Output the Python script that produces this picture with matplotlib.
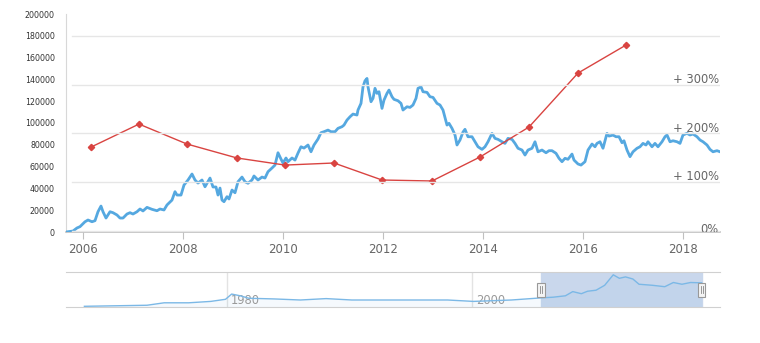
import matplotlib
matplotlib.use("Agg")
import matplotlib.pyplot as plt
from matplotlib.patches import Rectangle
import numpy as np

# price series (year, value in thousands)
blue_years = [2005.66, 2005.80, 2005.88, 2005.94, 2006.04, 2006.10, 2006.18, 2006.24, 2006.30, 2006.36,
              2006.40, 2006.46, 2006.54, 2006.60, 2006.68, 2006.74, 2006.80, 2006.88, 2006.94, 2007.00,
              2007.08, 2007.14, 2007.20, 2007.28, 2007.38, 2007.48, 2007.54, 2007.62, 2007.68, 2007.78,
              2007.84, 2007.88, 2007.96, 2008.02, 2008.10, 2008.18, 2008.24, 2008.30, 2008.38, 2008.44,
              2008.54, 2008.60, 2008.66, 2008.70, 2008.74, 2008.78, 2008.82, 2008.88, 2008.92, 2008.98,
              2009.04, 2009.10, 2009.18, 2009.24, 2009.30, 2009.38, 2009.42, 2009.50, 2009.58, 2009.64,
              2009.70, 2009.78, 2009.84, 2009.90, 2009.96, 2010.00, 2010.06, 2010.10, 2010.18, 2010.24,
              2010.30, 2010.36, 2010.42, 2010.50, 2010.56, 2010.62, 2010.70, 2010.76, 2010.82, 2010.90,
              2010.96, 2011.04, 2011.10, 2011.18, 2011.22, 2011.28, 2011.34, 2011.40, 2011.48, 2011.50,
              2011.56, 2011.60, 2011.64, 2011.68, 2011.70, 2011.76, 2011.80, 2011.84, 2011.88, 2011.92,
              2011.98, 2012.02, 2012.08, 2012.12, 2012.18, 2012.22, 2012.30, 2012.36, 2012.40, 2012.48,
              2012.54, 2012.60, 2012.66, 2012.70, 2012.76, 2012.80, 2012.88, 2012.94, 2013.00, 2013.08,
              2013.14, 2013.20, 2013.28, 2013.32, 2013.38, 2013.44, 2013.48, 2013.54, 2013.60, 2013.64,
              2013.70, 2013.78, 2013.84, 2013.90, 2013.98, 2014.04, 2014.10, 2014.18, 2014.24, 2014.30,
              2014.38, 2014.44, 2014.50, 2014.58, 2014.64, 2014.70, 2014.78, 2014.84, 2014.90, 2014.98,
              2015.04, 2015.10, 2015.18, 2015.26, 2015.32, 2015.38, 2015.46, 2015.52, 2015.58, 2015.64,
              2015.70, 2015.78, 2015.82, 2015.90, 2015.96, 2016.04, 2016.10, 2016.18, 2016.24, 2016.28,
              2016.34, 2016.40, 2016.48, 2016.52, 2016.60, 2016.66, 2016.72, 2016.78, 2016.82, 2016.88,
              2016.94, 2017.00, 2017.08, 2017.14, 2017.20, 2017.26, 2017.30, 2017.38, 2017.44, 2017.50,
              2017.58, 2017.64, 2017.68, 2017.74, 2017.80, 2017.88, 2017.94, 2018.00, 2018.08, 2018.14,
              2018.20, 2018.28, 2018.34, 2018.40, 2018.48, 2018.54, 2018.60, 2018.68, 2018.74]
blue_vals = [0.0, 0.9, 3.7, 4.9, 9.4, 11.0, 9.4, 10.4, 18.6, 23.8,
             18.6, 12.8, 18.6, 17.7, 15.6, 12.8, 12.8, 16.5, 17.7, 16.5,
             18.6, 21.1, 19.3, 22.6, 20.8, 19.5, 21.1, 20.2, 24.8, 29.3,
             37.0, 33.9, 33.9, 43.1, 47.7, 53.2, 47.7, 44.9, 47.7, 41.5,
             49.5, 41.3, 41.3, 33.9, 40.3, 29.3, 27.8, 32.4, 30.3, 38.5,
             36.0, 46.1, 50.4, 46.1, 44.7, 47.7, 51.4, 47.7, 50.4, 49.5,
             55.3, 58.7, 61.4, 72.7, 66.9, 63.3, 67.9, 64.5, 67.9, 66.0,
             72.4, 78.2, 77.0, 79.8, 73.6, 79.8, 85.3, 91.1, 92.0, 93.5,
             92.0, 92.0, 95.1, 96.6, 98.1, 102.7, 105.7, 108.2, 107.3, 111.9,
             118.0, 133.2, 138.7, 140.9, 133.2, 119.5, 122.6, 131.8, 127.2, 128.7,
             113.4, 121.0, 127.2, 130.2, 124.1, 121.7, 120.4, 118.0, 111.9, 114.9,
             114.3, 116.5, 122.6, 131.8, 133.2, 128.7, 128.1, 124.1, 123.5, 118.0,
             116.5, 111.9, 98.1, 99.7, 95.1, 89.0, 79.8, 84.4, 91.7, 94.2,
             87.4, 87.4, 82.8, 78.2, 75.8, 78.2, 82.8, 90.5, 85.9, 85.0,
             82.8, 81.3, 85.9, 85.0, 81.3, 76.8, 75.2, 70.6, 75.2, 76.8,
             82.8, 73.6, 75.2, 72.7, 74.6, 74.6, 72.2, 67.6, 64.5, 67.6,
             66.7, 71.5, 66.0, 62.4, 61.4, 64.5, 75.2, 80.7, 78.2, 81.3,
             82.8, 76.8, 90.5, 88.0, 88.9, 87.4, 87.4, 81.9, 83.7, 75.2,
             69.1, 73.6, 76.8, 78.2, 81.3, 79.8, 82.8, 78.2, 81.3, 78.2,
             82.8, 87.4, 89.0, 82.8, 83.7, 82.8, 81.3, 89.0, 90.5, 89.0,
             89.9, 87.4, 84.4, 82.8, 79.8, 75.8, 73.6, 74.6, 73.6]

# yearly comparison series (value in thousands)
red_years = [2006.16, 2007.12, 2008.08, 2009.08, 2010.04, 2011.02, 2011.98, 2012.98, 2013.94, 2014.92, 2015.90, 2016.86]
red_vals = [77.9, 99.0, 80.7, 67.9, 61.4, 63.3, 47.7, 46.8, 68.8, 96.3, 145.8, 171.5]

# navigator overview series
nav_years = [1968.4, 1973.5, 1974.9, 1976.9, 1978.7, 1979.9, 1980.4, 1981.1, 1981.8, 1983.9,
             1986.0, 1988.1, 1990.2, 1994.5, 1998.0, 2000.1, 2003.2, 2005.6, 2006.6, 2007.6,
             2008.2, 2008.9, 2009.4, 2010.1, 2010.8, 2011.5, 2012.0, 2012.5, 2013.1, 2013.6,
             2014.7, 2015.7, 2016.4, 2017.1, 2017.8, 2018.7]
nav_vals = [2, 5, 12, 12, 16, 22, 37, 32, 25, 23,
            20, 24, 20, 20, 20, 16, 20, 26, 28, 32,
            44, 38, 45, 48, 62, 92, 82, 86, 80, 65,
            62, 58, 70, 65, 70, 69]

x_ticks = [2006, 2008, 2010, 2012, 2014, 2016, 2018]
y_ticks = list(range(0, 200001, 20000))
pct_ticks = [0, 100, 200, 300, 400]
pct_labels = ["0%", "+ 100%", "+ 200%", "+ 300%", ""]
nav_grid = [1980, 2000]
selection = (2005.6, 2018.7)

fig = plt.figure(figsize=(7.6, 3.43), dpi=100)
ax = fig.add_axes([66 / 760, 111 / 343, 654 / 760, 218 / 343])
ax2 = ax.twinx()

ax.set_xlim(2005.66, 2018.74)
ax.set_ylim(0, 200000)
ax2.set_ylim(-2, 445)

for p in pct_ticks:
    ax2.axhline(p, xmin=0.009, color="#e6e6e6", lw=1, zorder=0)
for p, lab in zip(pct_ticks, pct_labels):
    # the 0% label sits low and gets cut by the axis edge
    off = 4 if p == 0 else 11
    ax2.text(0.998, p + off, lab, transform=ax2.get_yaxis_transform(), ha="right", va="center",
             fontsize=8.3, color="#666666", clip_on=True)

ax.plot(blue_years, np.array(blue_vals) * 1000, color="#55a8e0", lw=2, zorder=3)
ax.plot(red_years, np.array(red_vals) * 1000, color="#d94441", lw=1, marker="D", ms=3.2, zorder=4)

ax.set_xticks(x_ticks)
ax.set_xticklabels([str(t) for t in x_ticks], fontsize=8.5, color="#666666")
ax.set_yticks(y_ticks)
ax.set_yticklabels([str(t) for t in y_ticks], fontsize=5.7, color="#333333")
ax.tick_params(axis="x", length=5, color="#c0c0c0", pad=3)
ax.tick_params(axis="y", length=0, pad=8)
ax2.set_yticks([])
for s in ["top", "right"]:
    ax.spines[s].set_visible(False)
    ax2.spines[s].set_visible(False)
ax2.spines["left"].set_visible(False)
ax2.spines["bottom"].set_visible(False)
ax.spines["left"].set_color("#d8d8d8")
ax.spines["bottom"].set_color("#c0c0c0")
ax.spines["bottom"].set_linewidth(1.2)

# navigator
nav = fig.add_axes([66 / 760, 36 / 343, 654 / 760, 35 / 343])
nav.set_xlim(1966.9, 2020.2)
nav.set_ylim(0, 100)
nav.axvspan(selection[0], selection[1], color="#c9d7ec", zorder=0)
for g in nav_grid:
    nav.axvline(g, color="#e3e3e3", lw=1, zorder=1)
    nav.text(g + 0.35, 20, str(g), fontsize=8.3, color="#9a9a9a", va="center", ha="left", zorder=2)
nav.fill_between(nav_years, nav_vals, 0, color="#55a8e0", alpha=0.06, lw=0, zorder=1)
nav.plot(nav_years, nav_vals, color="#7bb8e6", lw=1, zorder=3)
for xs in selection:
    nav.add_patch(Rectangle((xs - 0.3, 30), 0.6, 40, facecolor="#f4f4f4", edgecolor="#999999",
                            lw=0.8, zorder=5))
    nav.plot([xs - 0.08, xs - 0.08], [40, 60], color="#888888", lw=0.6, zorder=6)
    nav.plot([xs + 0.08, xs + 0.08], [40, 60], color="#888888", lw=0.6, zorder=6)
nav.set_xticks([])
nav.set_yticks([])
for s in ["left", "right"]:
    nav.spines[s].set_visible(False)
nav.spines["top"].set_color("#d0d0d0")
nav.spines["bottom"].set_color("#d0d0d0")

fig.savefig("out.png", dpi=100)
